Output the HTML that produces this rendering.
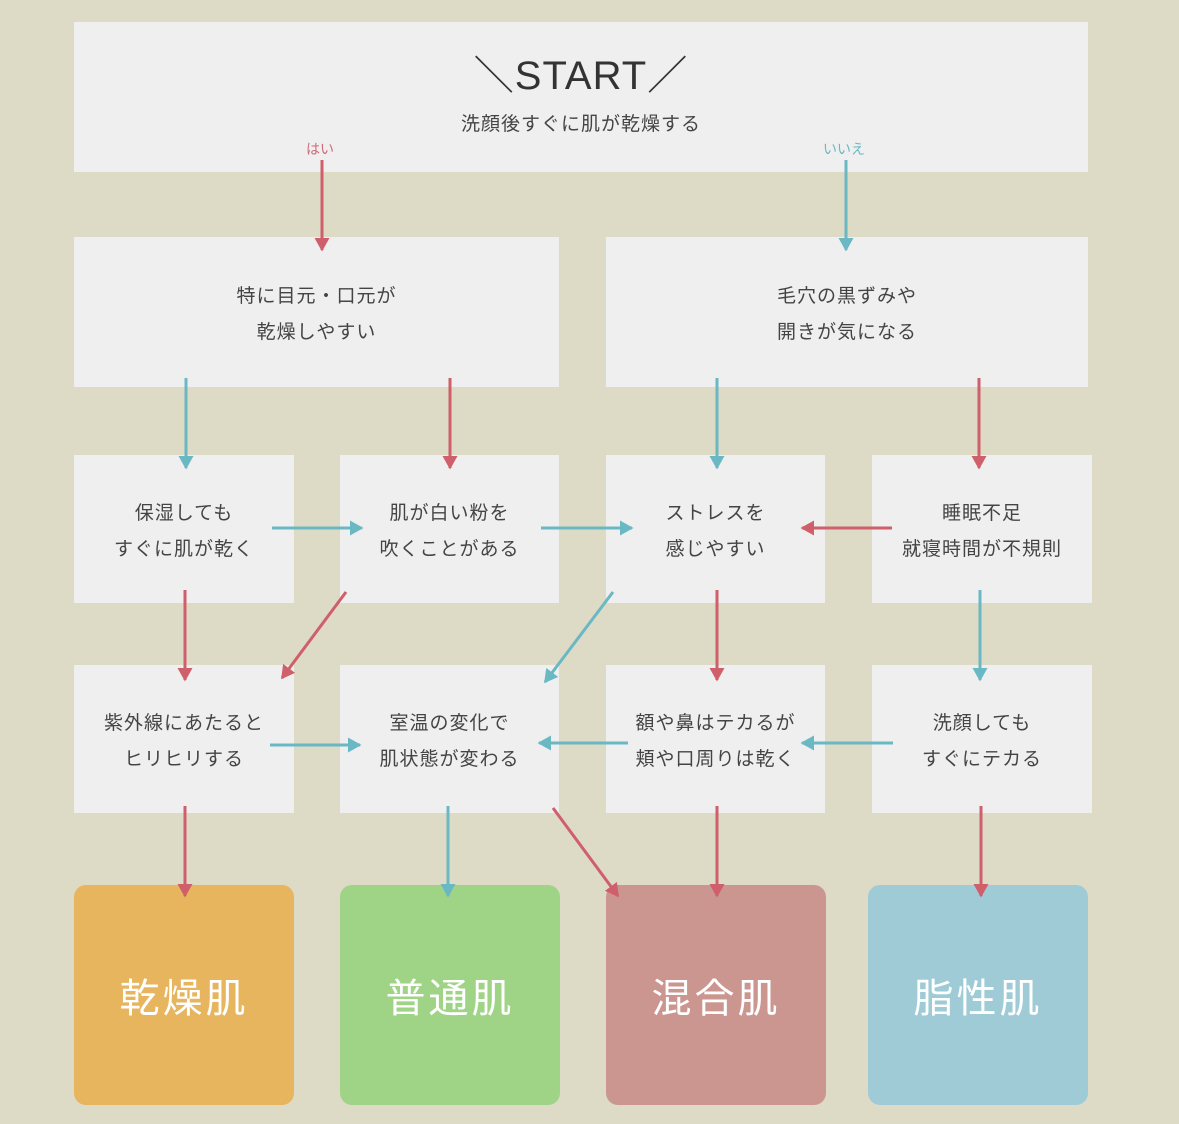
<!DOCTYPE html>
<html><head><meta charset="utf-8"><style>
body{margin:0;width:1179px;height:1124px;background:#dddac6;position:relative;overflow:hidden;font-family:"Liberation Sans","Noto Sans CJK JP",sans-serif;color:#444}
.b{position:absolute;box-sizing:border-box;padding-top:6px;background:#efefef;display:flex;align-items:center;justify-content:center;text-align:center;font-size:19px;line-height:36px;letter-spacing:1px}
.r{position:absolute;border-radius:12px;display:flex;align-items:center;justify-content:center;color:#fff;font-size:40px;letter-spacing:3px}
svg{position:absolute;left:0;top:0}
</style></head><body>
<div class="b" style="left:74px;top:22px;width:1014px;height:150px;flex-direction:column;line-height:normal;padding-top:0">
<div style="font-size:40px;letter-spacing:1px;color:#333;margin-top:-16px">＼START／</div>
<div style="font-size:19px;margin-top:8px">洗顔後すぐに肌が乾燥する</div></div>
<div style="position:absolute;left:306px;top:139px;font-size:14px;color:#d06a76">はい</div>
<div style="position:absolute;left:823px;top:139px;font-size:14px;color:#6ab8c4">いいえ</div>
<div class="b" style="left:74px;top:237px;width:485px;height:150px">特に目元・口元が<br>乾燥しやすい</div>
<div class="b" style="left:606px;top:237px;width:482px;height:150px">毛穴の黒ずみや<br>開きが気になる</div>
<div class="b" style="left:74px;top:455px;width:220px;height:148px">保湿しても<br>すぐに肌が乾く</div>
<div class="b" style="left:340px;top:455px;width:219px;height:148px">肌が白い粉を<br>吹くことがある</div>
<div class="b" style="left:606px;top:455px;width:219px;height:148px">ストレスを<br>感じやすい</div>
<div class="b" style="left:872px;top:455px;width:220px;height:148px">睡眠不足<br>就寝時間が不規則</div>
<div class="b" style="left:74px;top:665px;width:220px;height:148px">紫外線にあたると<br>ヒリヒリする</div>
<div class="b" style="left:340px;top:665px;width:219px;height:148px">室温の変化で<br>肌状態が変わる</div>
<div class="b" style="left:606px;top:665px;width:219px;height:148px">額や鼻はテカるが<br>頬や口周りは乾く</div>
<div class="b" style="left:872px;top:665px;width:220px;height:148px">洗顔しても<br>すぐにテカる</div>
<div class="r" style="left:74px;top:885px;width:220px;height:220px;background:#e6b55e">乾燥肌</div>
<div class="r" style="left:340px;top:885px;width:220px;height:220px;background:#9fd386">普通肌</div>
<div class="r" style="left:606px;top:885px;width:220px;height:220px;background:#cb9690">混合肌</div>
<div class="r" style="left:868px;top:885px;width:220px;height:220px;background:#9ecbd6">脂性肌</div>
<svg width="1179" height="1124">
<defs>
<marker id="R" markerWidth="5" markerHeight="5" refX="4" refY="2.5" orient="auto"><path d="M0,0L4.5,2.5L0,5z" fill="#cf5f6a"/></marker>
<marker id="B" markerWidth="5" markerHeight="5" refX="4" refY="2.5" orient="auto"><path d="M0,0L4.5,2.5L0,5z" fill="#6ab8c4"/></marker>
</defs>
<g stroke="#cf5f6a" stroke-width="3" marker-end="url(#R)">
<line x1="322" y1="160" x2="322" y2="250"/>
<line x1="450" y1="378" x2="450" y2="468"/>
<line x1="979" y1="378" x2="979" y2="468"/>
<line x1="892" y1="528" x2="802" y2="528"/>
<line x1="185" y1="590" x2="185" y2="680"/>
<line x1="346" y1="592" x2="282" y2="678"/>
<line x1="717" y1="590" x2="717" y2="680"/>
<line x1="185" y1="806" x2="185" y2="896"/>
<line x1="553" y1="808" x2="618" y2="896"/>
<line x1="717" y1="806" x2="717" y2="896"/>
<line x1="981" y1="806" x2="981" y2="896"/>
</g>
<g stroke="#6ab8c4" stroke-width="3" marker-end="url(#B)">
<line x1="846" y1="160" x2="846" y2="250"/>
<line x1="186" y1="378" x2="186" y2="468"/>
<line x1="717" y1="378" x2="717" y2="468"/>
<line x1="272" y1="528" x2="362" y2="528"/>
<line x1="541" y1="528" x2="632" y2="528"/>
<line x1="613" y1="592" x2="545" y2="682"/>
<line x1="980" y1="590" x2="980" y2="680"/>
<line x1="270" y1="745" x2="360" y2="745"/>
<line x1="628" y1="743" x2="539" y2="743"/>
<line x1="893" y1="743" x2="802" y2="743"/>
<line x1="448" y1="806" x2="448" y2="896"/>
</g>
</svg>
</body></html>
